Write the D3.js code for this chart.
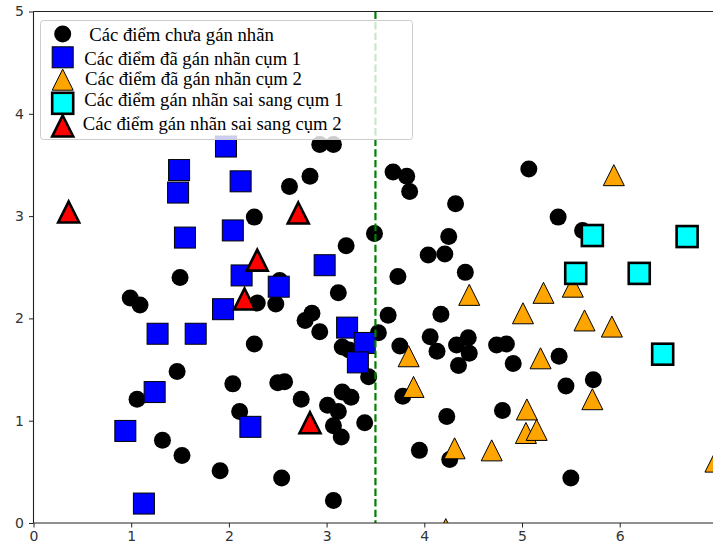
<!DOCTYPE html>
<html>
<head>
<meta charset="utf-8">
<script src="https://cdn.jsdelivr.net/npm/d3@7"></script>
<style>
  body { margin: 0; background: #fff; }
  .tick text { font-family: "DejaVu Sans", sans-serif; font-size: 14px; fill: #333; }
  .legend-label { font-family: "Liberation Serif", "Times New Roman", serif; font-size: 18.7px; fill: #000; }
</style>
</head>
<body>
<svg id="chart"></svg>
<script>
// unlabeled points [x, y]
const unlabeled = [
  [0.99, 2.20], [1.09, 2.13], [1.50, 2.40], [2.26, 2.99], [2.62, 3.29], [2.83, 3.39],
  [2.93, 3.70], [3.07, 3.70], [3.20, 2.71], [3.12, 2.25], [2.29, 2.15], [2.48, 2.14],
  [2.52, 2.37], [2.85, 2.05], [2.78, 1.98], [2.93, 1.87], [2.26, 1.75], [3.63, 2.03],
  [3.53, 1.86], [3.16, 1.72], [3.23, 1.69], [3.43, 1.43], [2.57, 1.38], [2.50, 1.37],
  [2.74, 1.21], [3.16, 1.28], [3.25, 1.23], [3.01, 1.15], [3.12, 1.09], [3.07, 0.95],
  [3.15, 0.84], [3.39, 0.98], [3.75, 1.73], [3.78, 1.24], [4.17, 2.04], [4.06, 1.82],
  [4.13, 1.68], [4.33, 1.74], [4.45, 1.81], [4.46, 1.66], [4.35, 1.54], [4.23, 1.04],
  [3.68, 3.43], [3.82, 3.39], [3.85, 3.24], [4.32, 3.12], [5.07, 3.46], [5.37, 2.99],
  [5.62, 2.86], [3.49, 2.83], [4.25, 2.80], [4.04, 2.62], [4.21, 2.63], [3.73, 2.41],
  [4.42, 2.45], [4.74, 1.74], [4.84, 1.75], [4.91, 1.56], [5.38, 1.63], [5.45, 1.34],
  [5.73, 1.40], [4.80, 1.10], [3.95, 0.71], [4.26, 0.62], [5.50, 0.44], [3.07, 0.22],
  [1.47, 1.48], [1.06, 1.21], [2.04, 1.36], [2.11, 1.09], [1.32, 0.81], [1.52, 0.66],
  [1.91, 0.51], [2.54, 0.44]
];
// labeled cluster 1
const cluster1 = [
  [1.49, 3.45], [1.48, 3.23], [2.12, 3.34], [1.97, 3.68], [1.55, 2.79], [2.04, 2.86],
  [2.13, 2.42], [2.98, 2.52], [2.51, 2.31], [1.94, 2.09], [1.27, 1.85], [1.66, 1.85],
  [3.21, 1.91], [3.39, 1.76], [3.32, 1.57], [1.24, 1.28], [0.94, 0.90], [2.22, 0.94],
  [1.13, 0.19]
];
// labeled cluster 2
const cluster2 = [
  [5.94, 3.40], [4.46, 2.23], [5.22, 2.25], [5.52, 2.31], [5.01, 2.05], [5.64, 1.98],
  [5.92, 1.92], [3.84, 1.63], [5.19, 1.61], [3.89, 1.33], [5.72, 1.21], [5.05, 1.11],
  [5.04, 0.88], [5.15, 0.91], [4.31, 0.73], [4.69, 0.71], [6.98, 0.60], [4.22, -0.06]
];
// wrongly labeled as cluster 1
const wrong1 = [[5.72, 2.81], [6.69, 2.80], [5.55, 2.44], [6.20, 2.44], [6.44, 1.65]];
// wrongly labeled as cluster 2
const wrong2 = [[0.36, 3.04], [2.71, 3.03], [2.29, 2.57], [2.16, 2.19], [2.83, 0.98]];

const boundaryX = 3.5;
const xTicks = [0, 1, 2, 3, 4, 5, 6];
const yTicks = [0, 1, 2, 3, 4, 5];
const legendLabels = [
  'Các điểm chưa gán nhãn',
  'Các điểm đã gán nhãn cụm 1',
  'Các điểm đã gán nhãn cụm 2',
  'Các điểm gán nhãn sai sang cụm 1',
  'Các điểm gán nhãn sai sang cụm 2'
];

const width = 713, height = 550;
const plotLeft = 33.5, plotTop = 11.5, plotBottom = 523, unit = 97.7;

const svg = d3.select('#chart').attr('width', width).attr('height', height);

const xScale = d3.scaleLinear().domain([0, 7]).range([plotLeft, plotLeft + unit * 7]);
const yScale = d3.scaleLinear().domain([0, 5]).range([plotBottom, plotTop]);

svg.append('defs').append('clipPath').attr('id', 'plot-clip')
  .append('rect')
  .attr('x', xScale(0)).attr('y', yScale(5))
  .attr('width', xScale(7) - xScale(0)).attr('height', yScale(0) - yScale(5));

// marker shapes
const tri = h => `M0,${-h}L${h},${h}L${-h},${h}Z`;

const drawCircle = (g, x, y) => g.append('circle').attr('cx', x).attr('cy', y).attr('r', 8.5).attr('fill', '#000');
const drawSquare = (g, x, y, fill, sw) => g.append('rect')
  .attr('x', x - 10.5).attr('y', y - 10.5).attr('width', 21).attr('height', 21)
  .attr('fill', fill).attr('stroke', '#000').attr('stroke-width', sw);
const drawTri = (g, x, y, fill, sw) => g.append('path')
  .attr('d', tri(10.5)).attr('transform', `translate(${x},${y})`)
  .attr('fill', fill).attr('stroke', '#000').attr('stroke-width', sw)
  .attr('stroke-linejoin', 'miter');

const plot = svg.append('g').attr('clip-path', 'url(#plot-clip)');

unlabeled.forEach(d => drawCircle(plot, xScale(d[0]), yScale(d[1])));
cluster1.forEach(d => drawSquare(plot, xScale(d[0]), yScale(d[1]), '#0000ff', 1));
cluster2.forEach(d => drawTri(plot, xScale(d[0]), yScale(d[1]), '#ffa500', 1));
wrong1.forEach(d => drawSquare(plot, xScale(d[0]), yScale(d[1]), '#00ffff', 2.6));
wrong2.forEach(d => drawTri(plot, xScale(d[0]), yScale(d[1]), '#ff0000', 2.6));

// decision boundary
plot.append('line')
  .attr('x1', xScale(boundaryX)).attr('x2', xScale(boundaryX))
  .attr('y1', yScale(5)).attr('y2', yScale(0))
  .attr('stroke', '#008000').attr('stroke-width', 2.2)
  .attr('stroke-dasharray', '7.4,3.2');

// axes
const xAxis = d3.axisBottom(xScale).tickValues(xTicks).tickSize(4.5).tickPadding(4).tickFormat(d3.format('d'));
const yAxis = d3.axisLeft(yScale).tickValues(yTicks).tickSize(4.5).tickPadding(5).tickFormat(d3.format('d'));

svg.append('g').attr('transform', `translate(0,${plotBottom})`).call(xAxis)
  .call(g => g.select('.domain').remove());
svg.append('g').attr('transform', `translate(${plotLeft},0)`).call(yAxis)
  .call(g => g.select('.domain').remove());
svg.selectAll('.tick line').attr('stroke', '#222').attr('stroke-width', 1);

// spines
const spine = (x1, y1, x2, y2) => svg.append('line')
  .attr('x1', x1).attr('y1', y1).attr('x2', x2).attr('y2', y2)
  .attr('stroke', '#222').attr('stroke-width', 1.1);
spine(plotLeft, plotTop, plotLeft, plotBottom);
spine(plotLeft, plotBottom, xScale(7), plotBottom);
spine(plotLeft, plotTop, xScale(7), plotTop);
spine(xScale(7), plotTop, xScale(7), plotBottom);

// legend
const legend = svg.append('g');
legend.append('rect')
  .attr('x', 40.5).attr('y', 20.5).attr('width', 372).attr('height', 119)
  .attr('rx', 3).attr('fill', '#fff').attr('fill-opacity', 0.8)
  .attr('stroke', '#cccccc').attr('stroke-width', 1);

const rowY = [34, 57.3, 79.7, 103.3, 126];
const baseY = [41.3, 64.5, 85, 106.3, 129.7];
const textX = [89.3, 84.3, 85, 84.3, 82.7];
drawCircle(legend, 62.7, rowY[0]);
drawSquare(legend, 62.7, rowY[1], '#0000ff', 1);
drawTri(legend, 62.7, rowY[2], '#ffa500', 1);
drawSquare(legend, 62.7, rowY[3], '#00ffff', 2.6);
drawTri(legend, 62.7, rowY[4], '#ff0000', 2.6);

legendLabels.forEach((t, i) => {
  legend.append('text').attr('class', 'legend-label')
    .attr('x', textX[i]).attr('y', baseY[i])
    .text(t);
});
</script>
</body>
</html>
